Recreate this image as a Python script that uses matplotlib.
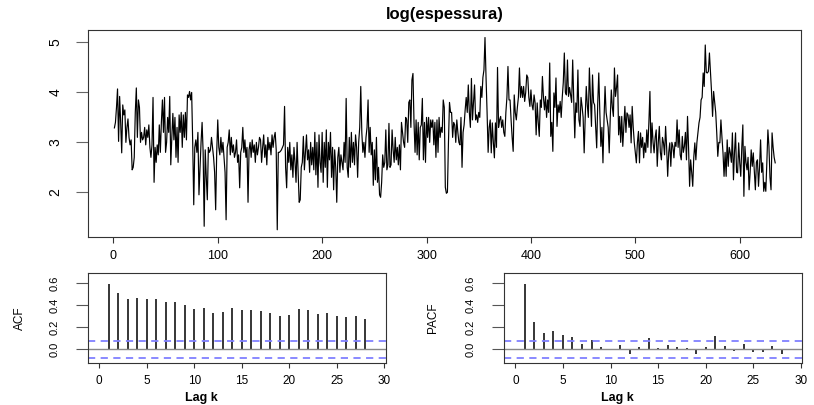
import matplotlib
matplotlib.use("Agg")
import matplotlib.pyplot as plt
import numpy as np

plt.rcParams['font.family'] = ['Liberation Sans', 'DejaVu Sans']

log_espessura = [
    3.29, 3.4, 3.7, 4.07, 3.02, 3.92, 3.4, 2.79, 3.75, 3.55, 3.65, 3.0, 3.3, 3.47, 3.1, 2.95, 3.05, 2.45, 2.5, 2.7, 3.6, 4.09,
    3.1, 3.85, 3.7, 3.0, 3.2, 3.05, 3.1, 3.3, 2.95, 3.25, 3.1, 3.35, 2.9,
    2.7, 2.95, 3.9, 2.2, 2.9, 2.6, 2.95, 2.75, 3.35, 2.8, 3.4, 3.85, 3.2, 3.9, 2.8,
    3.0, 3.5, 3.2, 3.92, 2.55, 3.1, 3.58, 3.05, 3.5, 2.7, 3.3, 2.6, 3.55, 3.2, 3.6, 2.9, 3.55, 3.1, 3.6, 3.05,
    3.95, 3.9, 4.02, 3.85, 4.0, 3.0, 1.75, 2.9, 3.05, 2.8,
    3.2, 1.95, 2.5, 3.0, 3.4, 2.8, 1.32, 2.85, 2.3, 1.85, 2.9, 2.8, 2.85, 3.1, 2.9, 2.7, 2.4, 1.65, 2.8, 3.45,
    2.9, 2.75, 3.1, 2.8, 3.0, 2.7, 2.4, 1.45, 2.9, 3.0, 3.25, 2.75, 3.1, 2.8, 2.95, 2.7, 2.8, 3.05, 2.6, 2.75,
    2.09, 2.8, 2.9, 3.3, 2.8, 3.05, 2.7, 2.9, 1.8, 2.85, 3.0, 2.7, 3.05, 2.8, 2.95, 2.6, 3.0, 2.75, 2.9, 3.1,
    3.05, 2.6, 2.9, 3.15, 2.7, 2.95, 2.55, 3.1, 2.85, 3.0, 2.75, 3.15, 2.9, 3.1, 3.2, 2.85, 1.25,
    2.8, 2.8, 2.82, 2.85, 2.9, 2.95,
    3.72, 2.5, 2.09, 2.9, 2.6, 3.0, 2.45, 2.75, 2.3, 2.9, 2.6, 2.2, 3.0, 2.4, 1.8, 1.85, 2.5,
    2.6, 3.12, 2.45, 2.8, 3.15, 2.65, 2.85, 2.4, 3.0, 2.55, 2.9, 2.45, 3.2, 2.35, 3.0, 2.1, 3.15, 2.6, 2.4, 3.2,
    2.2, 3.0, 2.5, 3.25, 2.1, 3.0, 2.65, 3.2, 2.3, 2.9, 2.05, 2.85, 2.5, 1.8, 2.7, 2.9, 2.4, 2.75, 2.6, 2.45,
    3.0, 2.6, 3.88, 2.5, 2.3, 3.1, 2.5, 3.2, 2.6, 3.0, 2.55, 3.15, 2.9, 2.3, 3.0, 3.3, 4.12, 3.2, 2.8, 3.0, 2.7, 3.1, 3.3, 3.85, 2.8,
    3.3, 2.75, 3.0, 2.14, 2.85, 2.25, 3.1, 2.2, 2.5, 1.95, 1.9, 2.2, 2.75, 2.5, 2.6, 3.25, 2.45,
    2.55, 3.38, 2.5, 2.55, 3.25, 2.85, 2.6, 3.1, 2.65, 2.9, 2.55, 2.95, 2.45, 3.4, 3.2, 3.0, 2.9, 3.5, 3.45, 3.0,
    3.8, 3.85, 3.3, 4.25, 4.38, 3.4, 2.8, 3.45, 2.75, 3.4, 2.65, 3.3, 3.35, 3.88, 2.65, 3.4, 2.6, 3.5,
    3.1, 3.5, 3.0, 3.45, 3.3, 3.45, 2.95, 3.4, 2.7, 3.45, 2.8, 3.5, 3.1, 3.3, 3.2, 3.85, 3.7, 2.1, 1.98, 2.0,
    3.0, 3.8, 3.6, 3.6, 3.1, 3.4, 3.35, 3.0, 3.45, 3.2, 3.0, 2.95, 3.5, 2.5, 3.2, 3.35, 3.65, 3.9, 3.6, 4.15, 3.6, 3.3, 4.28, 3.45, 3.8,
    4.15, 3.45, 3.55, 3.4, 3.6, 3.5, 4.12, 3.9, 4.3, 4.45, 5.1, 4.3, 3.6, 2.8, 3.3, 3.45, 2.79, 3.39, 3.0, 2.69, 3.39, 2.9, 4.5, 3.3, 3.45,
    3.52, 3.3, 3.45, 3.2, 3.12, 3.6, 3.9, 4.52, 3.85, 3.85, 3.45, 3.1, 2.82, 3.95, 3.6, 3.45, 3.7, 3.9, 4.49, 3.9,
    4.12, 3.9, 4.12, 3.82, 4.0, 4.35, 4.3, 3.9, 3.72, 4.05, 3.75, 3.65, 3.95, 3.79, 3.15, 3.79, 3.4, 3.12, 3.85, 3.7,
    4.32, 3.9, 3.65, 3.92, 3.5, 3.85, 3.6, 4.59, 3.12, 3.4, 2.82, 3.99, 3.7, 4.29, 3.32, 3.75, 3.6, 3.82, 3.5, 3.9,
    4.2, 4.79, 4.0, 3.95, 4.65, 3.92, 4.1, 3.95, 3.8, 4.65, 3.9, 3.09, 3.79, 3.6, 4.45, 3.45, 3.32, 3.9, 3.72, 3.5,
    2.79, 3.5, 4.12, 3.75, 3.5, 4.49, 3.9, 3.32, 4.35, 3.8, 3.75, 3.3, 2.89, 3.79, 4.39, 3.6, 2.92, 3.3, 2.59, 3.45,
    4.12, 3.6, 3.45, 3.3, 2.79, 3.5, 4.05, 3.7, 3.52, 4.49, 3.92, 4.1, 4.35, 3.15, 3.52,
    3.0, 3.52, 2.92, 3.3, 3.72, 3.2, 3.59, 3.55, 3.3, 3.55, 2.99, 3.72, 3.3, 3.0, 2.8, 2.59, 3.0, 3.22, 2.59, 3.19,
    2.9, 3.1, 2.69, 2.99, 2.8, 3.25, 2.9, 3.4, 4.02, 2.79, 3.39, 3.0, 2.79, 3.1, 3.25, 2.52, 3.0, 3.32, 2.8, 2.65,
    3.1, 2.99, 2.75, 3.32, 2.9, 2.32, 2.8, 2.99, 2.52, 3.0, 2.92, 2.69, 3.0, 2.92, 3.45, 2.9, 3.25, 2.75, 2.65, 3.12,
    2.8, 2.92, 3.2, 2.65, 3.52, 2.9, 2.12, 2.65, 2.4, 2.12, 2.7, 2.99, 2.65, 3.0, 3.19, 3.39, 3.5, 3.85, 3.9, 4.39,
    4.12, 4.95, 4.4, 4.39, 4.42, 4.79, 4.4, 4.02, 3.52, 4.02, 3.8, 3.6, 3.19, 2.72, 3.0, 2.99, 3.45, 3.1, 2.79, 2.32,
    2.8, 2.32, 3.05, 2.52, 2.9, 2.79, 2.6, 3.19, 2.25, 2.8, 3.19, 2.4, 2.39, 2.99, 2.6, 2.32, 2.9, 3.35, 1.92, 2.92,
    2.6, 2.45, 2.7, 2.05, 2.4, 2.85, 2.52, 2.79, 2.4, 2.05, 2.6, 2.65, 2.12, 2.5, 3.05, 2.4, 2.59, 2.02, 2.2, 2.02,
    2.6, 3.25, 2.92, 2.3, 2.05, 3.19, 2.9, 2.7, 2.59,
]

lags = list(range(1, 29))
acf_vals = [0.59, 0.51, 0.46, 0.465, 0.46, 0.46, 0.43, 0.435, 0.405, 0.37,
            0.375, 0.335, 0.34, 0.38, 0.36, 0.355, 0.345, 0.335, 0.30, 0.31,
            0.365, 0.36, 0.325, 0.335, 0.305, 0.29, 0.30, 0.275]
pacf_vals = [0.59, 0.245, 0.15, 0.165, 0.13, 0.115, 0.05, 0.085, 0.02, -0.01,
             0.04, -0.04, 0.02, 0.105, 0.015, 0.04, 0.025, 0.015, -0.04, 0.02,
             0.125, 0.03, -0.015, 0.05, -0.025, -0.025, 0.03, -0.045]

ts_xticks = [0, 100, 200, 300, 400, 500, 600]
ts_yticks = [2, 3, 4, 5]
lag_ticks = [0, 5, 10, 15, 20, 25, 30]
cf_yticks = [0.0, 0.2, 0.4, 0.6]

n = len(log_espessura)
conf = 1.96 / np.sqrt(n)
t = np.arange(1, n + 1)

edge = '#333333'

fig = plt.figure(figsize=(8.14, 4.05), dpi=100)

# serie temporal
ax = fig.add_axes([0.1081, 0.4148, 0.8754, 0.5111])
ax.plot(t, log_espessura, color='black', lw=0.85)
ax.set_xlim(-24.3, 658.3)
ax.set_ylim(1.105, 5.25)
ax.set_xticks(ts_xticks)
ax.set_yticks(ts_yticks)
ax.tick_params(axis='x', length=4.3, width=0.8, color=edge, labelsize=9, pad=5)
ax.tick_params(axis='y', length=8.6, width=0.8, color='#666666', labelsize=10,
               pad=10, labelrotation=90)
for lab in ax.get_yticklabels():
    lab.set_va('center')
for s in ax.spines.values():
    s.set_color(edge)
    s.set_linewidth(0.8)
fig.text(445 / 814, 1 - 15 / 405, 'log(espessura)', ha='center', va='center',
         fontsize=12, fontweight='bold')


def cf_panel(left, vals, ylab, ylab_x, xlab_x):
    a = fig.add_axes([left, 0.1037, 0.3661, 0.2222])
    a.vlines(lags, 0, vals, color='black', lw=1.1)
    a.axhline(0, color='#888888', lw=1.0)
    a.axhline(conf, color='#8080ff', lw=1.3, ls=(0, (4, 3)))
    a.axhline(-conf, color='#8080ff', lw=1.3, ls=(0, (4, 3)))
    a.set_xlim(-1.16, 30.16)
    a.set_ylim(-0.124, 0.694)
    a.set_xticks(lag_ticks)
    a.set_yticks(cf_yticks)
    a.set_yticklabels(['0.0', '0.2', '0.4', '0.6'])
    a.tick_params(axis='x', length=3.6, width=0.8, color=edge, labelsize=8.5, pad=5)
    a.tick_params(axis='y', length=8.6, width=0.8, color='#555555', labelsize=8,
                  pad=12, labelrotation=90)
    for lab in a.get_yticklabels():
        lab.set_va('center')
    for s in a.spines.values():
        s.set_color(edge)
        s.set_linewidth(0.8)
    fig.text(ylab_x / 814, 1 - 318 / 405, ylab, rotation=90, ha='center',
             va='center', fontsize=8.5)
    fig.text(xlab_x / 814, 1 - 398 / 405, 'Lag k', ha='center', va='center',
             fontsize=9, fontweight='bold')
    return a


cf_panel(0.1081, acf_vals, 'ACF', 20, 201)
cf_panel(0.6196, pacf_vals, 'PACF', 433, 617)

fig.savefig('out.png', dpi=100)
